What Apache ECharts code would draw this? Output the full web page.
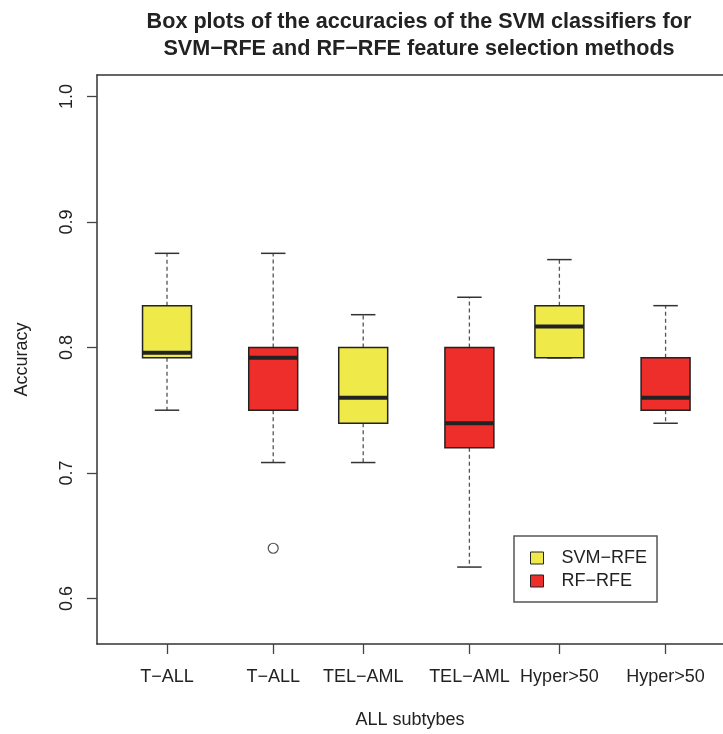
<!DOCTYPE html>
<html>
<head>
<meta charset="utf-8">
<script src="https://cdn.jsdelivr.net/npm/echarts@6/dist/echarts.min.js"></script>
<style>
  html, body { margin: 0; padding: 0; background: #fff; }
  #chart { width: 723px; height: 734px; }
</style>
</head>
<body>
<div id="chart"></div>
<script>
// Accuracy summaries (five-number box statistics) per subtype and method
const groups = ['T-ALL', 'T-ALL', 'TEL-AML', 'TEL-AML', 'Hyper>50', 'Hyper>50'];
const methods = ['SVM−RFE', 'RF−RFE', 'SVM−RFE', 'RF−RFE', 'SVM−RFE', 'RF−RFE'];
const lowerWhisker = [0.750, 0.7083, 0.7083, 0.625, 0.7917, 0.7396];
const lowerQuartile = [0.7917, 0.750, 0.7396, 0.720, 0.7917, 0.750];
const medians = [0.7958, 0.7917, 0.760, 0.7396, 0.8167, 0.760];
const upperQuartile = [0.8333, 0.800, 0.800, 0.800, 0.8333, 0.7917];
const upperWhisker = [0.875, 0.875, 0.8261, 0.840, 0.870, 0.8333];
// outlying points: which box they belong to and their value
const outlierBox = [1];
const outlierValue = [0.640];
const yTicks = [0.6, 0.7, 0.8, 0.9, 1.0];

// layout: box centres along the x scale, and box half-width in the same units
const boxAt = [1.0, 2.18, 3.18, 4.36, 5.36, 6.54];
const halfWidth = 0.272;
const methodColor = { 'SVM−RFE': '#efea4a', 'RF−RFE': '#ee2e2b' };
const ink = '#222';
const frame = { color: '#333', width: 1.5 };
const font = 'Liberation Sans, Arial, Helvetica, sans-serif';
const xMin = 0.222, xMax = 7.178;

function boxData(method) {
  const out = [];
  groups.forEach((g, i) => {
    if (methods[i] !== method) return;
    out.push([boxAt[i], lowerWhisker[i], lowerQuartile[i], medians[i], upperQuartile[i], upperWhisker[i]]);
  });
  return out;
}

function renderBox(params, api) {
  const x = api.value(0);
  const lo = api.coord([x, api.value(1)]);
  const q1 = api.coord([x, api.value(2)]);
  const md = api.coord([x, api.value(3)]);
  const q3 = api.coord([x, api.value(4)]);
  const hi = api.coord([x, api.value(5)]);
  const w = api.size([halfWidth * 2, 0])[0];
  const cx = lo[0];
  const fill = api.visual('color');
  const dash = { stroke: '#555', lineWidth: 1.3, lineDash: [4, 3] };
  const cap = { stroke: '#333', lineWidth: 1.5 };
  return {
    type: 'group',
    children: [
      { type: 'line', shape: { x1: cx, y1: q3[1], x2: cx, y2: hi[1] }, style: dash },
      { type: 'line', shape: { x1: cx, y1: q1[1], x2: cx, y2: lo[1] }, style: dash },
      { type: 'line', shape: { x1: cx - w / 4, y1: hi[1], x2: cx + w / 4, y2: hi[1] }, style: cap },
      { type: 'line', shape: { x1: cx - w / 4, y1: lo[1], x2: cx + w / 4, y2: lo[1] }, style: cap },
      { type: 'rect', shape: { x: cx - w / 2, y: q3[1], width: w, height: q1[1] - q3[1] },
        style: { fill: fill, stroke: ink, lineWidth: 1.5 } },
      { type: 'line', shape: { x1: cx - w / 2, y1: md[1], x2: cx + w / 2, y2: md[1] },
        style: { stroke: ink, lineWidth: 4 } }
    ]
  };
}

const chart = echarts.init(document.getElementById('chart'), null, { renderer: 'canvas' });

chart.setOption({
  animation: false,
  backgroundColor: '#fff',
  title: {
    text: 'Box plots of the accuracies of the SVM classifiers for\nSVM−RFE and RF−RFE feature selection methods',
    left: 414,
    top: 4,
    textAlign: 'center',
    textStyle: { fontFamily: font, fontSize: 21.6, fontWeight: 'bold', color: ink, lineHeight: 27 }
  },
  grid: { left: 97, top: 75, right: 0, bottom: 90, show: false },
  xAxis: [
    {
      type: 'value',
      min: xMin,
      max: xMax,
      name: 'ALL subtybes',
      nameLocation: 'middle',
      nameGap: 67,
      nameTextStyle: { fontFamily: font, fontSize: 18, color: ink },
      axisLine: { show: true, onZero: false, lineStyle: frame },
      splitLine: { show: false },
      axisTick: { show: true, length: 10, customValues: boxAt, lineStyle: { color: '#444', width: 1.3 } },
      axisLabel: {
        customValues: boxAt,
        margin: 24,
        fontFamily: font, fontSize: 18, color: ink,
        formatter: v => {
          let best = 0;
          boxAt.forEach((p, i) => { if (Math.abs(p - v) < Math.abs(boxAt[best] - v)) best = i; });
          return groups[best].replace('-', '−');
        }
      }
    },
    {
      // top edge of the plot frame
      type: 'value',
      position: 'top',
      min: xMin,
      max: xMax,
      axisLine: { show: true, onZero: false, lineStyle: frame },
      axisTick: { show: false },
      axisLabel: { show: false },
      splitLine: { show: false }
    }
  ],
  yAxis: {
    type: 'value',
    min: 0.5637,
    max: 1.0171,
    name: 'Accuracy',
    nameLocation: 'middle',
    nameRotate: 90,
    nameGap: 66,
    nameTextStyle: { fontFamily: font, fontSize: 18, color: ink },
    axisLine: { show: true, onZero: false, lineStyle: frame },
    splitLine: { show: false },
    axisTick: { show: true, length: 10, customValues: yTicks, lineStyle: { color: '#444', width: 1.3 } },
    axisLabel: {
      customValues: yTicks,
      rotate: 90,
      margin: 21,
      fontFamily: font, fontSize: 18, color: ink,
      formatter: v => v.toFixed(1)
    }
  },
  legend: {
    data: ['SVM−RFE', 'RF−RFE'],
    orient: 'vertical',
    left: 514,
    top: 536,
    padding: [13, 10, 12, 16],
    itemGap: 5,
    itemWidth: 13,
    itemHeight: 12,
    icon: 'rect',
    borderColor: '#555',
    borderWidth: 1.5,
    backgroundColor: '#fff',
    itemStyle: { borderColor: ink, borderWidth: 1 },
    textStyle: { fontFamily: font, fontSize: 18, color: ink, padding: [0, 0, 0, 13] }
  },
  series: [
    {
      name: 'SVM−RFE',
      type: 'custom',
      renderItem: renderBox,
      itemStyle: { color: methodColor['SVM−RFE'], borderColor: ink, borderWidth: 1 },
      encode: { x: 0, y: [1, 2, 3, 4, 5] },
      data: boxData('SVM−RFE'),
      z: 2
    },
    {
      name: 'RF−RFE',
      type: 'custom',
      renderItem: renderBox,
      itemStyle: { color: methodColor['RF−RFE'], borderColor: ink, borderWidth: 1 },
      encode: { x: 0, y: [1, 2, 3, 4, 5] },
      data: boxData('RF−RFE'),
      z: 2
    },
    {
      name: 'outliers',
      type: 'scatter',
      symbol: 'circle',
      symbolSize: 10,
      itemStyle: { color: '#fff', borderColor: ink, borderWidth: 1.2 },
      data: outlierBox.map((b, i) => [boxAt[b], outlierValue[i]]),
      z: 3
    }
  ]
});
</script>
</body>
</html>
